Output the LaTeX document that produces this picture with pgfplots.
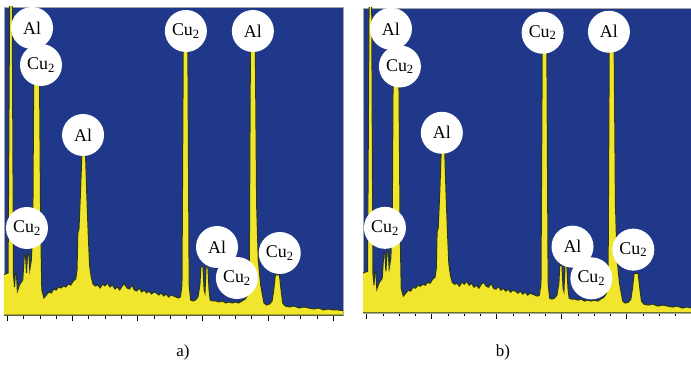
\documentclass[border=0pt]{standalone}
\usepackage{fontspec}
\setmainfont{Liberation Serif}
\usepackage{pgfplots}
\pgfplotsset{compat=1.18}
\usepackage{pgfplotstable}
\definecolor{bgblue}{RGB}{31,56,138}
\definecolor{specyellow}{RGB}{241,229,46}
\definecolor{edgecol}{RGB}{40,55,25}

\pgfplotstableread{
x y
-0.30 40
0.05 42
0.15 330
0.30 330
0.38 40
0.45 28
0.50 42
0.56 42
0.62 24
0.75 30
0.95 35
1.05 60
1.12 60
1.18 42
1.25 62
1.32 62
1.38 45
1.48 55
1.57 90
1.62 234
1.98 234
2.05 90
2.12 25
2.25 17
2.40 20
2.55 23
2.70 22
2.85 26
3.00 25
3.15 28
3.30 27
3.45 29
3.60 28
3.75 31
3.90 30
4.05 34
4.20 36
4.28 45
4.33 82
4.40 86
4.50 125
4.58 162
4.80 162
4.88 120
4.97 80
5.05 50
5.15 38
5.26 31
5.40 29
5.55 30
5.70 27
5.85 31
6.00 29
6.15 32
6.30 28
6.45 30
6.60 26
6.75 28
6.90 25
7.05 29
7.20 31
7.35 27
7.50 26
7.65 30
7.80 25
7.95 24
8.10 27
8.25 23
8.40 25
8.55 22
8.70 24
8.85 21
9.00 23
9.15 22
9.30 20
9.45 22
9.60 19
9.75 21
9.90 18
10.05 20
10.20 19
10.35 18
10.50 17
10.62 18
10.72 30
10.80 268
11.08 268
11.16 30
11.25 15
11.40 14
11.55 15
11.70 18
11.82 30
11.88 48
12.01 48
12.08 25
12.13 22
12.20 48
12.31 48
12.38 25
12.45 15
12.60 14
12.80 14
13.00 13
13.20 14
13.40 12
13.60 13
13.80 12
14.00 13
14.20 12
14.40 14
14.60 16
14.75 20
14.85 40
14.92 268
15.22 268
15.30 110
15.40 55
15.55 30
15.75 12
15.90 10
16.10 11
16.25 14
16.35 25
16.45 40
16.70 40
16.80 25
16.90 12
17.05 9
17.30 8
17.60 9
17.90 7
18.20 8
18.50 7
18.80 6
19.10 7
19.40 5
19.70 6
20.00 5
20.30 5
20.80 4
}\spec

\pgfplotsset{
  eds/.style={
    scale only axis,
    axis background/.style={fill=bgblue},
    ymin=0, ymax=308,
    ytick=\empty,
    xtick={0,4,...,20},
    minor xtick={0,...,20},
    xticklabels={},
    xtick pos=bottom,
    tick align=outside,
    major tick length=6bp,
    minor tick length=3.5bp,
    every tick/.style={black, line width=0.7bp},
    axis line style={gray!70, line width=0.7bp},
    clip mode=individual,
  },
}
\tikzset{
  lbl/.style={circle, fill=white, minimum size=42bp, inner sep=0pt,
    font=\fontsize{18}{18}\selectfont},
}

\begin{document}
\begin{tikzpicture}
\useasboundingbox (0,0) rectangle (691bp,370bp);
\begin{axis}[eds, at={(4bp,55bp)}, anchor=south west,
  width=339bp, height=308bp, xmin=-0.2, xmax=20.6]
\addplot[fill=specyellow, draw=edgecol, line width=1bp] table[x=x,y=y] {\spec} \closedcycle;
\node[lbl] at (axis cs:1.52,287) {Al};
\node[lbl] at (axis cs:2.07,250) {Cu\textsubscript{2}};
\node[lbl] at (axis cs:4.65,180) {Al};
\node[lbl] at (axis cs:1.21,87) {Cu\textsubscript{2}};
\node[lbl] at (axis cs:10.96,284) {Cu\textsubscript{2}};
\node[lbl] at (axis cs:15.07,284) {Al};
\node[lbl] at (axis cs:12.87,68) {Al};
\node[lbl] at (axis cs:14.09,37) {Cu\textsubscript{2}};
\node[lbl] at (axis cs:16.72,62) {Cu\textsubscript{2}};
\end{axis}
\begin{axis}[eds, at={(363bp,57bp)}, anchor=south west,
  width=328bp, height=305bp, xmin=-0.23, xmax=19.95]
\addplot[fill=specyellow, draw=edgecol, line width=1bp] table[x=x,y=y] {\spec} \closedcycle;
\node[lbl] at (axis cs:1.49,287) {Al};
\node[lbl] at (axis cs:2.04,249) {Cu\textsubscript{2}};
\node[lbl] at (axis cs:4.62,182) {Al};
\node[lbl] at (axis cs:1.12,86) {Cu\textsubscript{2}};
\node[lbl] at (axis cs:10.82,283) {Cu\textsubscript{2}};
\node[lbl] at (axis cs:14.90,284) {Al};
\node[lbl] at (axis cs:12.66,67) {Al};
\node[lbl] at (axis cs:13.82,35) {Cu\textsubscript{2}};
\node[lbl] at (axis cs:16.40,64) {Cu\textsubscript{2}};
\end{axis}
\node[font=\fontsize{17}{17}\selectfont] at (183bp,18bp) {a)};
\node[font=\fontsize{17}{17}\selectfont] at (503bp,18bp) {b)};
\end{tikzpicture}
\end{document}
